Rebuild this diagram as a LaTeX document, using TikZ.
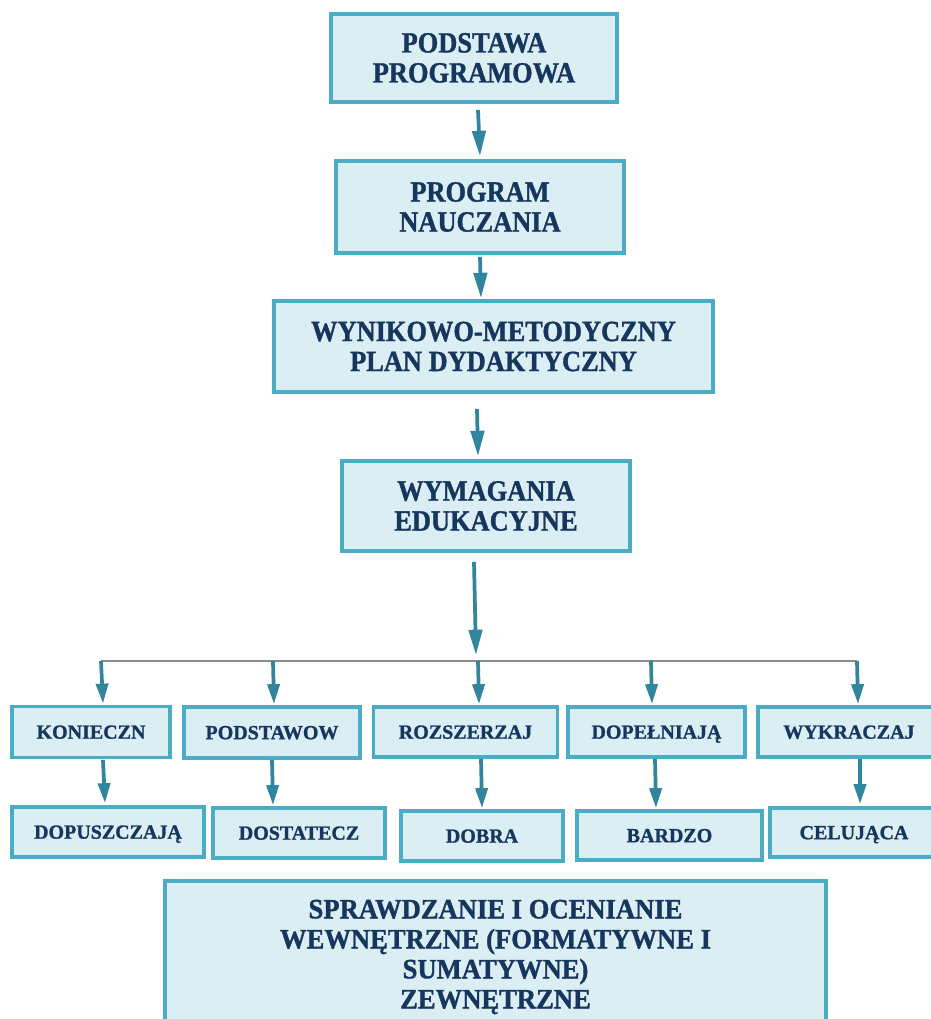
\documentclass[tikz,border=0pt]{standalone}
\usepackage{fontspec}
\setmainfont{Liberation Serif}[BoldFeatures={FakeBold=1.1}]
\newfontfamily\bigfont{Liberation Serif}[FakeStretch=0.9, BoldFeatures={FakeBold=1.2}]
\newfontfamily\evfont{Liberation Serif}[FakeStretch=0.95, BoldFeatures={FakeBold=1.2}]
\usetikzlibrary{arrows.meta}
\definecolor{boxfill}{HTML}{DAEEF3}
\definecolor{boxline}{HTML}{4BACC6}
\definecolor{txt}{HTML}{17365D}
\definecolor{arrc}{HTML}{31859C}
\definecolor{busc}{HTML}{8C8C8C}
\tikzset{
  box/.style={draw=boxline, fill=boxfill, line width=2.8pt, inner sep=0pt, align=center,
    text=txt, font=\bigfont\fontsize{22}{22.5}\selectfont\bfseries},
  evbox/.style={box, font=\evfont\fontsize{21}{22.5}\selectfont\bfseries},
  sbox/.style={box, font=\fontsize{15}{18}\selectfont\bfseries, text height=10pt, text depth=0pt},
  arrbig/.style={draw=arrc, line width=2.8pt, -{Triangle[width=10pt,length=19pt]}},
  arrsmall/.style={draw=arrc, line width=2.8pt, -{Triangle[width=9pt,length=15pt]}},
  busline/.style={draw=busc, line width=1.1pt}
}
\begin{document}
\begin{tikzpicture}[x=0.75pt,y=-0.75pt]
\useasboundingbox (0,0) rectangle (930,1019);
% main chain
\node[box, minimum width=214.5pt, minimum height=66pt] (p1) at (474,58) {PODSTAWA\\PROGRAMOWA};
\node[box, minimum width=216pt, minimum height=69pt] (p2) at (480,207) {PROGRAM\\NAUCZANIA};
\node[box, minimum width=329.25pt, minimum height=68.25pt] (p3) at (493.5,346.5) {WYNIKOWO-METODYCZNY\\PLAN DYDAKTYCZNY};
\node[box, minimum width=216pt, minimum height=67.5pt] (p4) at (486,506) {WYMAGANIA\\EDUKACYJNE};
% level 5
\node[sbox, minimum width=118.5pt, minimum height=38.25pt] (k1) at (91,732) {KONIECZN};
\node[sbox, minimum width=132pt, minimum height=38.25pt] (k2) at (272,732.5) {PODSTAWOW};
\node[sbox, minimum width=138pt, minimum height=37.5pt] (k3) at (465.5,732) {ROZSZERZAJ};
\node[sbox, minimum width=132.75pt, minimum height=37.5pt] (k4) at (656.5,732) {DOPEŁNIAJĄ};
\node[sbox, minimum width=136.5pt, minimum height=37.5pt] (k5) at (849,732) {WYKRACZAJ};
% level 6
\node[sbox, minimum width=144pt, minimum height=37.5pt] (d1) at (108,832) {DOPUSZCZAJĄ};
\node[sbox, minimum width=129pt, minimum height=37.5pt] (d2) at (299,833) {DOSTATECZ};
\node[sbox, minimum width=121.5pt, minimum height=37.5pt] (d3) at (482,836) {DOBRA};
\node[sbox, minimum width=138.75pt, minimum height=36.75pt] (d4) at (669.5,835.5) {BARDZO};
\node[sbox, minimum width=126pt, minimum height=36.75pt] (d5) at (854,832.5) {CELUJĄCA};
% bottom
\node[evbox, minimum width=495.75pt, minimum height=114pt] (ev) at (495.5,957) {SPRAWDZANIE I OCENIANIE\\WEWNĘTRZNE (FORMATYWNE I\\SUMATYWNE)\\ZEWNĘTRZNE};
% chain arrows
\draw[arrbig] ([shift={(4,6)}]p1.south) -- ([shift={(0,-3)}]p2.north);
\draw[arrbig] ([shift={(0,2)}]p2.south) -- ([shift={(-12.5,-1)}]p3.north);
\draw[arrbig] ([shift={(-16.5,15)}]p3.south) -- ([shift={(-8,-3)}]p4.north);
% bus
\coordinate (bus) at (476,661);
\coordinate (b1) at (101,661);
\coordinate (b2) at (273,661);
\coordinate (b3) at (478,661);
\coordinate (b4) at (651,661);
\coordinate (b5) at (857,661);
\draw[busline] (b1) -- (b5);
\draw[arrbig] ([shift={(-12,9)}]p4.south) -- ([shift={(0,-6)}]bus);
\draw[arrsmall] (b1) -- ([shift={(12,-1)}]k1.north);
\draw[arrsmall] (b2) -- ([shift={(2,-1)}]k2.north);
\draw[arrsmall] (b3) -- ([shift={(13.5,-1)}]k3.north);
\draw[arrsmall] (b4) -- ([shift={(-4.5,-1)}]k4.north);
\draw[arrsmall] (b5) -- ([shift={(9,-1)}]k5.north);
% level 5 -> level 6
\draw[arrsmall] ([shift={(12,0.5)}]k1.south) -- ([shift={(-3,-2)}]d1.north);
\draw[arrsmall] ([shift={(0,0)}]k2.south) -- ([shift={(-26,-1)}]d2.north);
\draw[arrsmall] ([shift={(15.5,0)}]k3.south) -- ([shift={(0,-1)}]d3.north);
\draw[arrsmall] ([shift={(-1.5,0)}]k4.south) -- ([shift={(-13.5,-1)}]d4.north);
\draw[arrsmall] ([shift={(11,0)}]k5.south) -- ([shift={(6,-2)}]d5.north);
\end{tikzpicture}
\end{document}
